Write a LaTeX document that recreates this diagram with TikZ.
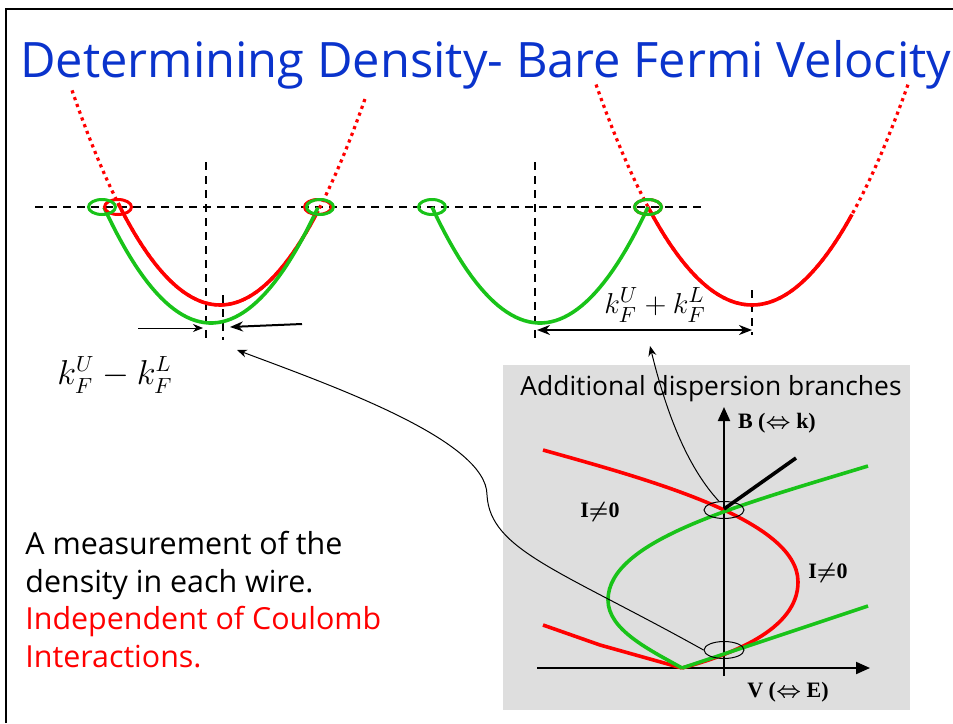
\documentclass[tikz,border=0pt]{standalone}
\usepackage{amsmath}
\usepackage{fontspec}
\setmainfont{Open Sans}
\newfontfamily\labelfont{Liberation Serif}
\usetikzlibrary{arrows.meta,positioning,shapes.geometric,calc}
\definecolor{titleblue}{RGB}{10,51,204}
\definecolor{bandred}{RGB}{255,0,0}
\definecolor{bandgreen}{RGB}{25,195,25}
\definecolor{insetgray}{RGB}{222,222,222}
\tikzset{
  frame/.style={line width=1.3pt, black},
  guide/.style={line width=0.7pt, dash pattern=on 4pt off 3pt},
  band/.style={line width=1.8pt},
  ext/.style={line width=1.6pt, bandred, dash pattern=on 1.6pt off 2pt},
  ring/.style={draw, ellipse, line width=1.5pt, minimum width=13.5pt,
               minimum height=7.5pt, inner sep=0pt},
  crossring/.style={draw, ellipse, line width=0.5pt, minimum width=20pt,
                    minimum height=8.5pt, inner sep=0pt},
  pointer/.style={-{Stealth[length=5pt, width=4pt]}, line width=0.5pt},
  heavyarrow/.style={-{Stealth[length=6.5pt, width=5pt]}, line width=1pt},
  axis/.style={-{Triangle[length=7pt, width=6pt]}, line width=1pt},
  mathlbl/.style={font=\fontsize{16}{19}\selectfont},
  boldlbl/.style={font=\labelfont\bfseries\fontsize{11}{13}\selectfont}
}
\begin{document}
\begin{tikzpicture}[x=0.5pt, y=-0.5pt]
\useasboundingbox (0,0) rectangle (953,723);
% slide frame and title
\draw[frame] (6,723) -- (6,9) -- (953,9);
\node[anchor=base west, inner sep=0pt, text=titleblue,
      font=\fontsize{24.4}{28}\selectfont] (title) at (20,77)
      {Determining Density- Bare Fermi Velocity};

% guides
\draw[guide] (35,207) -- (705,207);
\draw[guide] (206,162) -- (206,338);
\draw[guide] (223,295) -- (223,340);
\draw[guide] (535,162) -- (535,338);
\draw[guide] (752,290) -- (752,335);

% left pair of bands
\draw[ext] plot[domain=72:366, samples=60] (\x, {305-0.98*((\x-220)/10)^2});
\draw[band, bandred] plot[domain=118:318, samples=50] (\x, {305-0.98*((\x-220)/10)^2});
\draw[band, bandgreen] plot[domain=104:318, samples=50] (\x, {323-1.01*((\x-211)/10)^2});
\node[ring, bandred] (rLa) at (118,207) {};
\node[ring, bandred] (rLb) at (318,207) {};
\node[ring, bandgreen] (gLa) at (102,207) {};
\node[ring, bandgreen] (gLb) at (320,207) {};

% right pair of bands
\draw[ext] plot[domain=596:908, samples=60] (\x, {305-0.906*((\x-752)/10)^2});
\draw[band, bandred] plot[domain=648:852, samples=50] (\x, {305-0.906*((\x-752)/10)^2});
\draw[band, bandgreen] plot[domain=432:648, samples=50] (\x, {323-0.994*((\x-540)/10)^2});
\node[ring, bandred] (rRa) at (648,207) {};
\node[ring, bandgreen] (gRa) at (432,207) {};
\node[ring, bandgreen] (gRb) at (648,207) {};

% k_F differences
\coordinate (dL1) at (138,328);
\coordinate (dL2) at (203,328);
\coordinate (dR1) at (302,324);
\coordinate (dR2) at (230,327);
\draw[pointer] (dL1) -- (dL2);
\draw[heavyarrow] (dR1) -- (dR2);
\node[mathlbl] (kminus) at (115,375) {$k_F^U - k_F^L$};
\coordinate (sL) at (537,330);
\coordinate (sR) at (752,330);
\draw[heavyarrow, {Stealth[length=6.5pt, width=5pt]}-{Stealth[length=6.5pt, width=5pt]}] (sL) -- (sR);
\node[mathlbl, font=\fontsize{15}{18}\selectfont] (kplus) at (655,305) {$k_F^U + k_F^L$};

% inset
\fill[insetgray] (503,365) rectangle (910,710);
\node[anchor=base, font=\fontsize{13.2}{15}\selectfont] (addl) at (711,395)
      {Additional dispersion branches};
\coordinate (vS) at (537,668);
\coordinate (vE) at (870,668);
\coordinate (bS) at (724,676);
\coordinate (bE) at (724,407);
\draw[axis] (vS) -- (vE);
\draw[axis] (bS) -- (bE);
\node[boldlbl, anchor=west] (blbl) at (731,423) {B ($\boldsymbol{\Leftrightarrow}$ k)};
\node[boldlbl] (vlbl) at (788,692) {V ($\boldsymbol{\Leftrightarrow}$ E)};
\node[boldlbl] (iA) at (600,512) {I$\boldsymbol{\neq}$0};
\node[boldlbl] (iB) at (828,573) {I$\boldsymbol{\neq}$0};
\draw[band, bandred] (682,668) -- (600,645) -- (543,625);
\draw[band, bandred] (543,450) .. controls (650,480) and (798,520) .. (798,582)
      .. controls (798,630) and (730,655) .. (682,668);
\draw[band, bandgreen] (868,466) .. controls (740,505) and (608,540) .. (608,600)
      .. controls (608,630) and (650,650) .. (682,668);
\draw[band, bandgreen] (682,668) -- (868,606);
\coordinate (kT) at (796,458);
\coordinate (kO) at (724,509);
\draw[band, black] (kO) -- (kT);
\node[crossring] (upring) at (724,510) {};
\node[crossring] (lowring) at (724,650) {};

% pointers from the inset
\coordinate (tipA) at (237,350);
\coordinate (tipB) at (650,346);
\draw[pointer] (lowring.west) .. controls (560,570) and (490,550) .. (487,495)
      .. controls (487,440) and (330,385) .. (tipA);
\draw[pointer] (upring.120) .. controls (690,470) and (668,420) .. (tipB);

% text
\node[anchor=north west, align=left, inner sep=0pt,
      font=\fontsize{15.2}{18.75}\selectfont] (note) at (25,531)
      {A measurement of the\\ density in each wire.\\
       \textcolor{bandred}{Independent of Coulomb}\\
       \textcolor{bandred}{Interactions.}};
\end{tikzpicture}
\end{document}
